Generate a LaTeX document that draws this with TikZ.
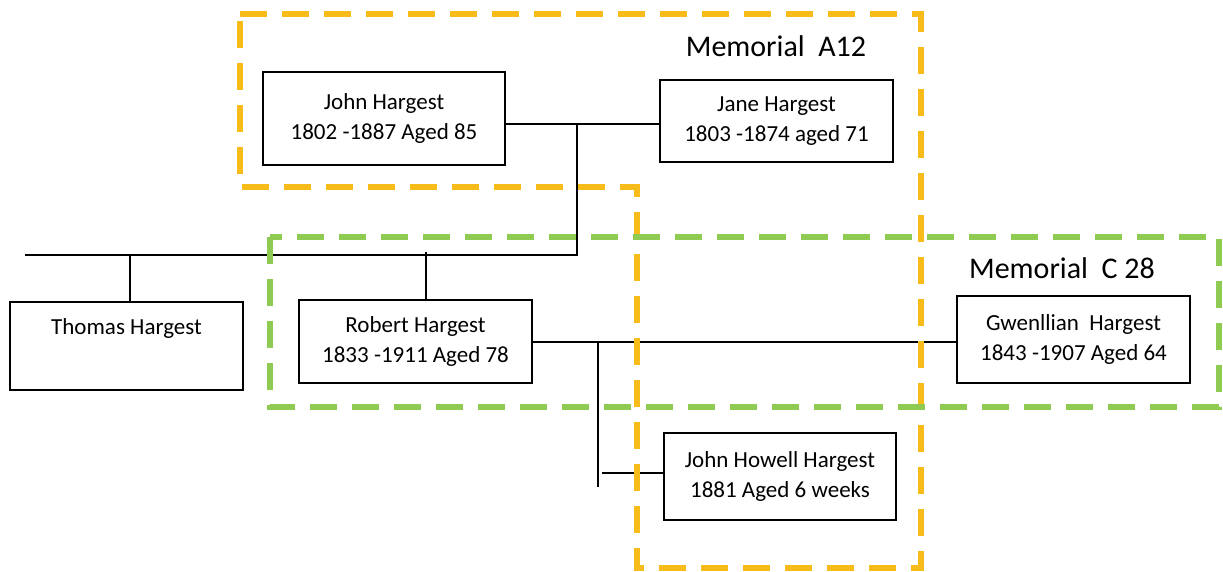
\documentclass[tikz,border=0pt]{standalone}
\usepackage{fontspec}
\setmainfont{Carlito}
\begin{document}
\begin{tikzpicture}[x=1pt,y=-1pt,
  person/.style={draw,line width=1.2pt,fill=white,align=center,inner sep=0pt,
    font=\fontsize{23}{29.5}\selectfont},
  conn/.style={line width=2pt,black},
  memo/.style={line width=5.5pt,dash pattern=on 27pt off 15pt},
  memlabel/.style={font=\fontsize{30}{34}\selectfont,anchor=center}]
\useasboundingbox (0,0) rectangle (1223,572);
\definecolor{gold}{HTML}{F7BB1A}
\definecolor{lgreen}{HTML}{8FCB52}
% people
\node[person,minimum width=242pt,minimum height=93pt] (john) at (384,118.5) {John Hargest\\1802 -1887 Aged 85};
\node[person,minimum width=233pt,minimum height=82pt] (jane) at (776.5,121) {Jane Hargest\\1803 -1874 aged 71};
\node[person,minimum width=233pt,minimum height=88pt] (thomas) at (126.5,346) {Thomas Hargest\\\strut};
\node[person,minimum width=233pt,minimum height=83pt] (robert) at (415.5,341.5) {Robert Hargest\\1833 -1911 Aged 78};
\node[person,minimum width=233pt,minimum height=87pt] (gwen) at (1073.5,339.5) {Gwenllian\ \ Hargest\\1843 -1907 Aged 64};
\node[person,minimum width=232pt,minimum height=87pt] (howell) at (780,476.5) {John Howell Hargest\\1881 Aged 6 weeks};
% connectors
\coordinate (jj) at (577,124);
\coordinate (jc) at (577,255);
\coordinate (lft) at (25,255);
\coordinate (rg) at (598,342);
\coordinate (hb) at (598,487);
\draw[conn] (john.east |- jj) -- (jane.west |- jj);
\draw[conn] (jj) -- (jc) -- (lft);
\draw[conn] ([xshift=3.5pt]thomas.north) -- ([xshift=3.5pt]thomas.north |- lft);
\draw[conn] ([xshift=10.5pt]robert.north) -- ([xshift=10.5pt,yshift=3pt]robert.north |- lft);
\draw[conn] (robert.east |- rg) -- (gwen.west |- rg);
\draw[conn] (rg) -- (hb);
\draw[conn] ([yshift=3.5pt]howell.west) -- ([yshift=3.5pt,xshift=4pt]howell.west -| rg);
% memorial outlines
\draw[memo,draw=gold] (240,14) -- (921,14) -- (921,568) -- (637,568) -- (637,187) -- (240,187) -- cycle;
\draw[memo,draw=lgreen] (270,237) rectangle (1219,407);
\node[memlabel] (ma) at (776,46) {Memorial\ \ A12};
\node[memlabel] (mc) at (1062,268) {Memorial\ \ C 28};
\end{tikzpicture}
\end{document}
